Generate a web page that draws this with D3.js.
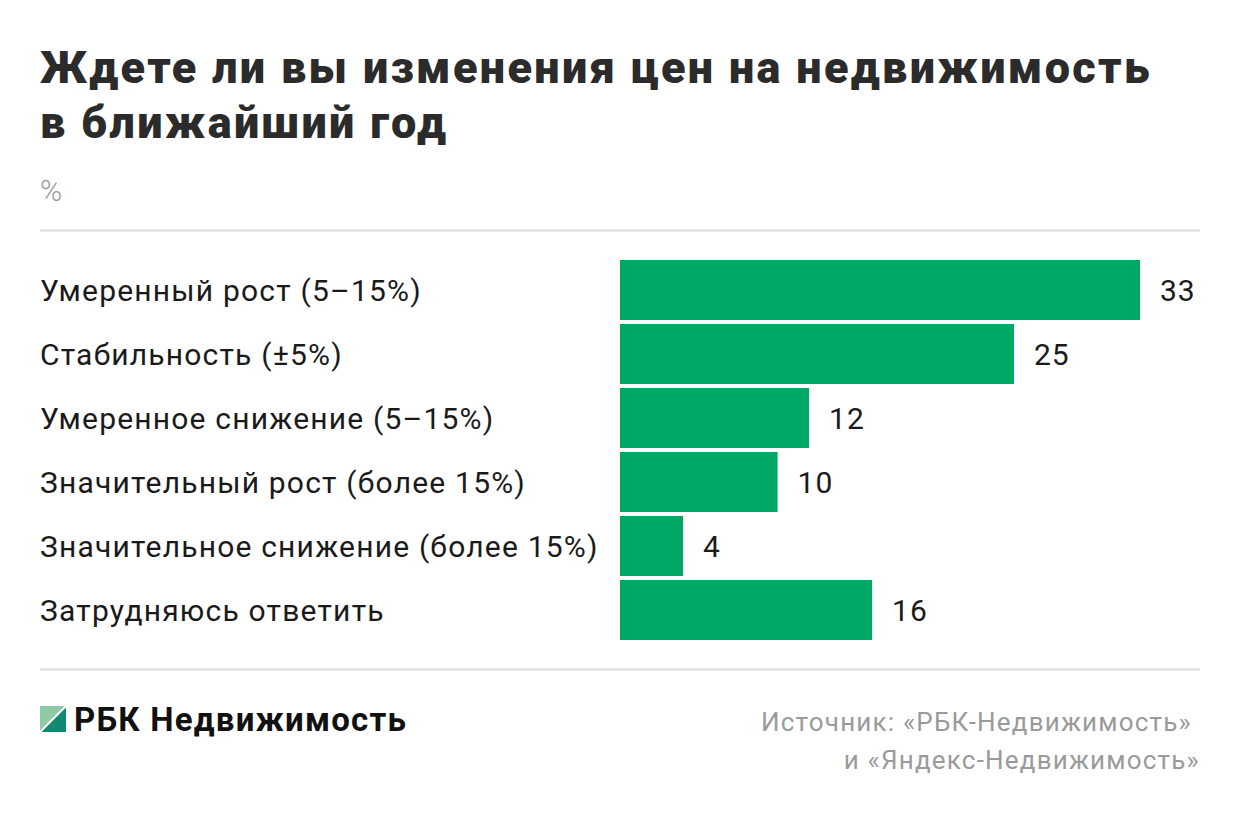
<!DOCTYPE html>
<html><head><meta charset="utf-8">
<script src="https://cdn.jsdelivr.net/npm/d3@7"></script>
<style>
html,body{margin:0;padding:0;background:#fff;}
svg{display:block;font-family:Roboto,"Noto Sans",sans-serif;}
</style></head>
<body>
<svg id="c" width="1240" height="817"></svg>
<script>
const categories = [
  "Умеренный рост (5–15%)",
  "Стабильность (±5%)",
  "Умеренное снижение (5–15%)",
  "Значительный рост (более 15%)",
  "Значительное снижение (более 15%)",
  "Затрудняюсь ответить"
];
const values = [33, 25, 12, 10, 4, 16];
const titleLines = ["Ждете ли вы изменения цен на недвижимость", "в ближайший год"];
const unitLabel = "%";
const sourceLines = ["Источник: «РБК-Недвижимость»", "и «Яндекс-Недвижимость»"];
const brand = "РБК Недвижимость";

const svg = d3.select("#c");

// Title
svg.append("g").selectAll("text").data(titleLines).join("text")
  .attr("x", 40).attr("y", (d,i)=>83 + i*55)
  .attr("font-size", 45).attr("font-weight", 900).attr("fill", "#2b2b2b")
  .attr("letter-spacing", 2.35)
  .text(d=>d);

svg.append("text").attr("x", 40).attr("y", 201)
  .attr("font-size", 30).attr("fill", "#9a9a9a").attr("font-weight", 300).text(unitLabel);

svg.append("line").attr("x1", 40).attr("x2", 1200).attr("y1", 230.5).attr("y2", 230.5)
  .attr("stroke", "#dcdcdc").attr("stroke-width", 2);
svg.append("line").attr("x1", 40).attr("x2", 1200).attr("y1", 669.5).attr("y2", 669.5)
  .attr("stroke", "#dcdcdc").attr("stroke-width", 2);

// Scales
const x = d3.scaleLinear().domain([0, 33]).range([620, 1140]);
const y = d3.scaleBand().domain(categories).range([258, 642]).paddingInner(4/64).paddingOuter(2/64);

const g = svg.append("g");
g.selectAll("rect").data(values).join("rect")
  .attr("x", x(0)).attr("y", (d,i)=>y(categories[i]))
  .attr("width", d=>x(d)-x(0)).attr("height", y.bandwidth())
  .attr("fill", "#00a865");

g.selectAll("text.val").data(values).join("text").attr("class","val")
  .attr("x", d=>x(d)+20).attr("y", (d,i)=>y(categories[i]) + y.bandwidth()/2)
  .attr("dy", "0.35em").attr("font-size", 30).attr("fill", "#1a1a1a")
  .attr("letter-spacing", 1)
  .text(d=>d);

g.selectAll("text.cat").data(categories).join("text").attr("class","cat")
  .attr("x", 40).attr("y", d=>y(d) + y.bandwidth()/2)
  .attr("dy", "0.35em").attr("font-size", 30).attr("fill", "#1a1a1a")
  .attr("letter-spacing", 1.2)
  .text(d=>d);

// Logo
const lg = svg.append("g").attr("transform", "translate(40,706)");
lg.append("path").attr("d", "M0,0 L25,0 L0,25 Z").attr("fill", "#8ecaa6");
lg.append("path").attr("d", "M26,1 L26,26 L1,26 Z").attr("fill", "#0f8a73");
lg.append("line").attr("x1", 27).attr("y1", -1).attr("x2", -1).attr("y2", 27)
  .attr("stroke", "#fff").attr("stroke-width", 2);
svg.append("text").attr("x", 74).attr("y", 731)
  .attr("font-size", 33).attr("font-weight", 700).attr("fill", "#111")
  .attr("letter-spacing", 1.2).text(brand);

// Source
svg.append("g").selectAll("text").data(sourceLines).join("text")
  .attr("x", (d,i)=> i===0 ? 1192 : 1200).attr("y", (d,i)=>731 + i*38)
  .attr("text-anchor", "end").attr("font-size", 26).attr("fill", "#9a9a9a")
  .attr("letter-spacing", 1.2)
  .text(d=>d);
</script>
</body></html>
